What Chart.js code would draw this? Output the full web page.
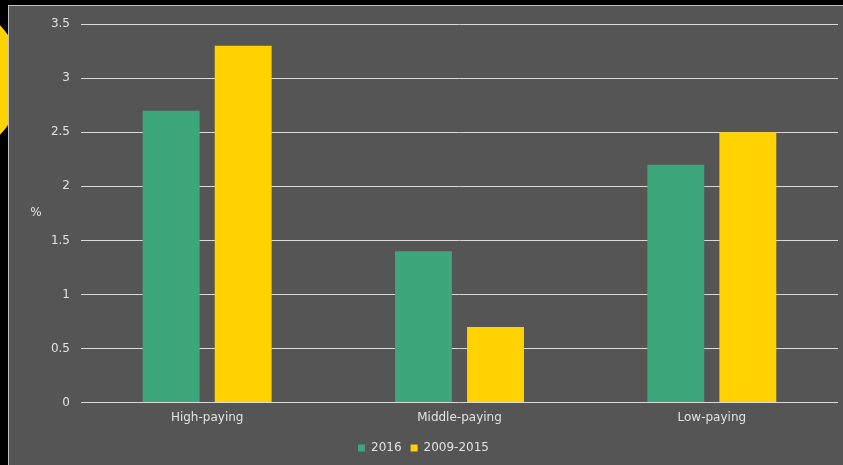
<!DOCTYPE html>
<html>
<head>
<meta charset="utf-8">
<script src="https://cdn.jsdelivr.net/npm/chart.js@4.4.0/dist/chart.umd.min.js"></script>
<style>
  html, body { margin: 0; padding: 0; background: #000; overflow: hidden; }
  body { width: 843px; height: 465px; position: relative; }
  #blob { position: absolute; left: -136px; top: 1px; width: 158px; height: 158px; border-radius: 50%; background: #ffd200; }
  #panel { position: absolute; left: 8px; top: 5px; width: 834px; height: 459px; background: #555555;
           border-top: 1px solid #bfbfbf; border-left: 1px solid #bfbfbf; }
</style>
</head>
<body>
<div id="blob"></div>
<div id="panel"><canvas id="chart" width="834" height="459"></canvas></div>
<script>
const categories = ["High-paying", "Middle-paying", "Low-paying"];
const series2016 = [2.7, 1.4, 2.2];
const series2009 = [3.3, 0.7, 2.5];
const yTicks = [0, 0.5, 1, 1.5, 2, 2.5, 3, 3.5];

const textColor = "#e2e2e2";
const fontFamily = "'DejaVu Sans', Verdana, sans-serif";

// horizontal "%" unit label left of the value axis
const unitLabel = {
    id: "unitLabel",
    afterDraw(chart) {
        const ctx = chart.ctx;
        ctx.save();
        ctx.fillStyle = textColor;
        ctx.font = "12px " + fontFamily;
        ctx.textAlign = "center";
        ctx.textBaseline = "middle";
        ctx.fillText("%", 27, 207);
        ctx.restore();
    }
};

new Chart(document.getElementById("chart"), {
    type: "bar",
    data: {
        labels: categories,
        datasets: [
            { label: "2016", data: series2016, backgroundColor: "#3da67a", borderWidth: 0 },
            { label: "2009-2015", data: series2009, backgroundColor: "#ffd200", borderWidth: 0 }
        ]
    },
    options: {
        responsive: false,
        animation: false,
        categoryPercentage: 0.571,
        barPercentage: 0.79,
        layout: { padding: { top: 15, right: 5, left: 0, bottom: 1 } },
        plugins: {
            legend: {
                position: "bottom",
                labels: {
                    color: textColor,
                    font: { family: fontFamily, size: 12 },
                    boxWidth: 7, boxHeight: 7, padding: 9
                }
            },
            tooltip: { enabled: false }
        },
        scales: {
            x: {
                grid: { display: false, drawTicks: false },
                border: { display: false },
                ticks: { color: textColor, font: { family: fontFamily, size: 12 }, padding: 8 }
            },
            y: {
                min: 0, max: 3.5,
                afterFit(scale) { scale.width = 72; },
                afterBuildTicks(scale) { scale.ticks = yTicks.map(v => ({ value: v })); },
                grid: { color: "#d9d9d9", drawTicks: false },
                border: { display: false },
                ticks: {
                    color: textColor, font: { family: fontFamily, size: 12 }, padding: 11,
                    callback: v => String(v)
                }
            }
        }
    },
    plugins: [unitLabel]
});
</script>
</body>
</html>
